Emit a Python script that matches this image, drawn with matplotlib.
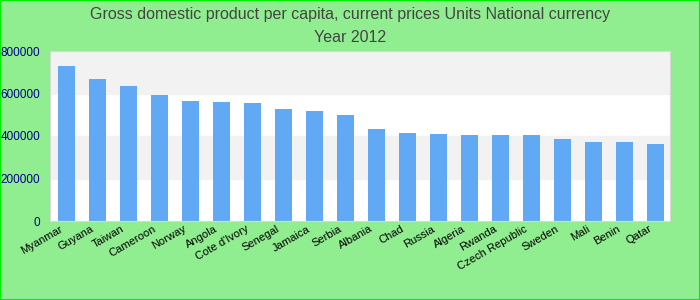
import numpy as np
import matplotlib.pyplot as plt

countries = ["Myanmar", "Guyana", "Taiwan", "Cameroon", "Norway", "Angola",
             "Cote d'Ivory", "Senegal", "Jamaica", "Serbia", "Albania", "Chad",
             "Russia", "Algeria", "Rwanda", "Czech Republic", "Sweden", "Mali",
             "Benin", "Qatar"]
gdp = [731000, 668000, 637000, 594000, 566000, 561000, 557000, 528000,
       519000, 500000, 433000, 414000, 409000, 404000, 404000, 404000,
       386000, 372000, 371000, 362000]
yticks = [0, 200000, 400000, 600000, 800000]

plt.rcParams['font.family'] = ['Liberation Sans', 'DejaVu Sans']

fig = plt.figure(figsize=(7, 3), dpi=100, facecolor='#90ee90')
ax = fig.add_axes([50/700, 1 - 221/300, 620/700, 170/300])
ax.set_facecolor('white')

# alternating bands
for i in range(len(yticks) - 1):
    if i % 2 == 1:
        ax.axhspan(yticks[i], yticks[i+1], color='#f2f2f2', zorder=0)

x = np.arange(len(countries))
ax.bar(x + 0.03, gdp, width=0.55, color='#61a9f4', zorder=2)

ax.set_xlim(-0.5, len(countries) - 0.5)
ax.set_ylim(0, 800000)
ax.set_yticks(yticks)
ax.set_yticklabels([str(v) for v in yticks], color='#00008b', fontsize=8.5)
ax.tick_params(axis='y', length=0, pad=7)
ax.tick_params(axis='x', length=0, pad=2)
ax.set_xticks(x - 0.2)
ax.set_xticklabels(countries, rotation=30, ha='right', rotation_mode='anchor',
                   fontsize=8, color='black')
for s in ax.spines.values():
    s.set_color('#d8d8d8')

fig.text(0.5, 1 - 14/300, "Gross domestic product per capita, current prices Units National currency",
         ha='center', va='center', fontsize=11.5, color='#444444')
fig.text(0.5, 1 - 37/300, "Year 2012", ha='center', va='center', fontsize=11.5, color='#444444')

# outer border
fig.patches.append(plt.Rectangle((0, 0), 1, 1, transform=fig.transFigure,
                                 fill=False, edgecolor='#00ee00', linewidth=1.5))

plt.savefig('out.png', facecolor=fig.get_facecolor())
